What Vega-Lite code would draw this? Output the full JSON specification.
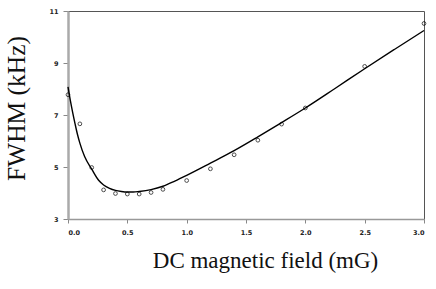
{
  "$schema": "https://vega.github.io/schema/vega-lite/v6.json",
  "width": 356,
  "height": 208,
  "autosize": "none",
  "padding": {"left": 68, "top": 11, "right": 12, "bottom": 70},
  "background": "white",
  "config": {
    "view": {"stroke": "#555", "strokeWidth": 1},
    "axis": {
      "grid": false,
      "labelFont": "DejaVu Sans",
      "labelFontWeight": "bold",
      "labelFontSize": 6.5,
      "labelColor": "#222",
      "tickColor": "#888",
      "tickWidth": 1,
      "titleFont": "Liberation Serif",
      "titleFontWeight": "normal",
      "titleColor": "#111"
    }
  },
  "datasets": {
    "points": [
      {"field": 0.0, "fwhm": 7.78},
      {"field": 0.1, "fwhm": 6.66},
      {"field": 0.2, "fwhm": 4.98},
      {"field": 0.3, "fwhm": 4.12},
      {"field": 0.4, "fwhm": 3.98},
      {"field": 0.5, "fwhm": 3.96},
      {"field": 0.6, "fwhm": 3.96},
      {"field": 0.7, "fwhm": 4.02},
      {"field": 0.8, "fwhm": 4.14},
      {"field": 1.0, "fwhm": 4.48},
      {"field": 1.2, "fwhm": 4.93},
      {"field": 1.4, "fwhm": 5.47},
      {"field": 1.6, "fwhm": 6.03},
      {"field": 1.8, "fwhm": 6.65},
      {"field": 2.0, "fwhm": 7.27},
      {"field": 2.5, "fwhm": 8.87},
      {"field": 3.0, "fwhm": 10.52}
    ],
    "fit": [
      {"field": 0.0, "fwhm": 8.08},
      {"field": 0.02, "fwhm": 7.55},
      {"field": 0.04, "fwhm": 7.08},
      {"field": 0.06, "fwhm": 6.65},
      {"field": 0.08, "fwhm": 6.25},
      {"field": 0.1, "fwhm": 5.92},
      {"field": 0.14, "fwhm": 5.4},
      {"field": 0.2, "fwhm": 4.92},
      {"field": 0.26, "fwhm": 4.48},
      {"field": 0.3, "fwhm": 4.31},
      {"field": 0.35, "fwhm": 4.18},
      {"field": 0.4, "fwhm": 4.1},
      {"field": 0.45, "fwhm": 4.06},
      {"field": 0.5, "fwhm": 4.04},
      {"field": 0.55, "fwhm": 4.04},
      {"field": 0.6, "fwhm": 4.06},
      {"field": 0.7, "fwhm": 4.13},
      {"field": 0.8, "fwhm": 4.26},
      {"field": 0.9, "fwhm": 4.46},
      {"field": 1.0, "fwhm": 4.68},
      {"field": 1.2, "fwhm": 5.15},
      {"field": 1.4, "fwhm": 5.63},
      {"field": 1.6, "fwhm": 6.16},
      {"field": 1.8, "fwhm": 6.71},
      {"field": 2.0, "fwhm": 7.27},
      {"field": 2.25, "fwhm": 8.02},
      {"field": 2.5, "fwhm": 8.78},
      {"field": 2.75, "fwhm": 9.52},
      {"field": 3.0, "fwhm": 10.25}
    ]
  },
  "layer": [
    {
      "data": {"name": "fit"},
      "mark": {"type": "line", "color": "black", "strokeWidth": 1.4, "interpolate": "monotone"},
      "encoding": {
        "x": {
          "field": "field", "type": "quantitative",
          "scale": {"domain": [0, 3], "nice": false, "zero": false},
          "axis": {
            "title": "DC magnetic field (mG)",
            "values": [0, 0.5, 1, 1.5, 2, 2.5, 3],
            "format": ".1f",
            "domainColor": "#999",
            "domainWidth": 1.5,
            "tickSize": 4,
            "labelPadding": 6,
            "titleFontSize": 23,
            "titleX": 197,
            "titleY": 48,
            "titleAnchor": null,
            "titleAlign": "center",
            "titleBaseline": "alphabetic"
          }
        },
        "y": {
          "field": "fwhm", "type": "quantitative",
          "scale": {"domain": [3, 11], "nice": false, "zero": false},
          "axis": {
            "title": "FWHM (kHz)",
            "values": [3, 5, 7, 9, 11],
            "domainColor": "#aaa",
            "domainWidth": 2.5,
            "tickSize": 5,
            "labelPadding": 5,
            "titleFontSize": 25.5,
            "titleX": -52,
            "titleY": 97,
            "titleAngle": 270,
            "titleAlign": "center",
            "titleBaseline": "middle"
          }
        }
      }
    },
    {
      "data": {"name": "points"},
      "mark": {"type": "point", "shape": "circle", "filled": false, "color": "black", "size": 14, "strokeWidth": 1},
      "encoding": {
        "x": {"field": "field", "type": "quantitative"},
        "y": {"field": "fwhm", "type": "quantitative"}
      }
    }
  ]
}
